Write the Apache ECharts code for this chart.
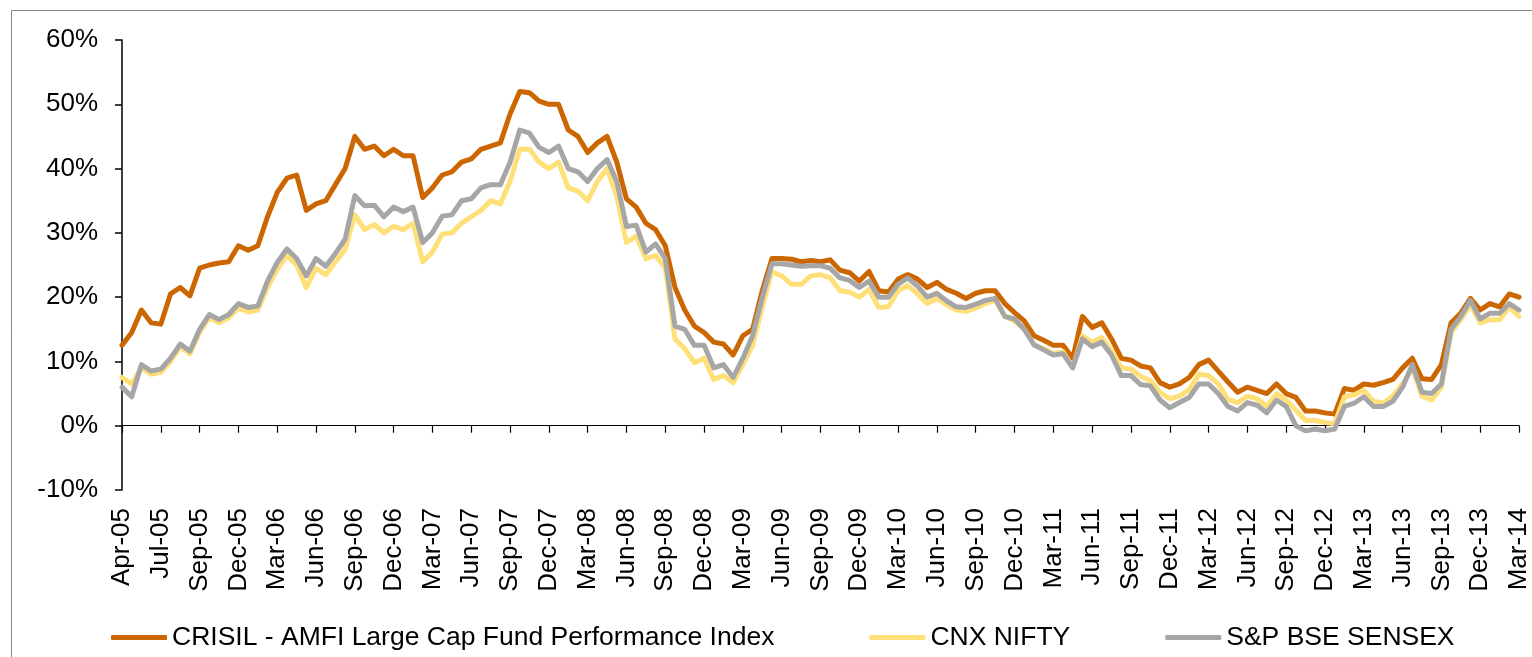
<!DOCTYPE html>
<html>
<head>
<meta charset="utf-8">
<title>Large Cap Fund Performance Index vs NIFTY / SENSEX</title>
<script src="https://cdn.jsdelivr.net/npm/echarts/dist/echarts.min.js"></script>
<style>
    html, body { margin: 0; padding: 0; background: #fff; }
    #chart { width: 1532px; height: 657px; }
</style>
</head>
<body>
<div id="chart"></div>
<script>
// tick labels, one every 4 points
const tickLabels = ['Apr-05', 'Jul-05', 'Sep-05', 'Dec-05', 'Mar-06', 'Jun-06', 'Sep-06', 'Dec-06',
    'Mar-07', 'Jun-07', 'Sep-07', 'Dec-07', 'Mar-08', 'Jun-08', 'Sep-08', 'Dec-08', 'Mar-09',
    'Jun-09', 'Sep-09', 'Dec-09', 'Mar-10', 'Jun-10', 'Sep-10', 'Dec-10', 'Mar-11', 'Jun-11',
    'Sep-11', 'Dec-11', 'Mar-12', 'Jun-12', 'Sep-12', 'Dec-12', 'Mar-13', 'Jun-13', 'Sep-13',
    'Dec-13', 'Mar-14']
const pointsPerTick = 4

const seriesNames = ['CRISIL - AMFI Large Cap Fund Performance Index', 'CNX NIFTY', 'S&P BSE SENSEX']
const lineColors = ['#cc6600', '#ffdf78', '#a6a6a6']

// values in %
const crisil = [
    12.5, 14.5, 18, 16, 15.8,
    20.5, 21.5, 20.2, 24.5,
    25, 25.3, 25.5, 28,
    27.3, 28, 32.5, 36.3,
    38.5, 39, 33.5, 34.5,
    35, 37.5, 40, 45,
    43, 43.5, 42, 43,
    42, 42, 35.5, 37,
    39, 39.5, 41, 41.5,
    43, 43.5, 44, 48.5,
    52, 51.8, 50.5, 50,
    50, 46, 45, 42.5,
    44, 45, 41, 35.3,
    34, 31.5, 30.5, 28,
    21.5, 18, 15.5, 14.5,
    13, 12.7, 11, 14,
    15, 21, 26, 26,
    25.9, 25.5, 25.7, 25.5,
    25.8, 24.2, 23.8, 22.5,
    24, 21, 20.8, 22.8,
    23.5, 22.8, 21.5, 22.3,
    21.2, 20.6, 19.8, 20.6,
    21, 21, 19, 17.6,
    16.3, 14, 13.3, 12.5,
    12.5, 10.5, 17, 15.3,
    16, 13.5, 10.5, 10.2,
    9.3, 9, 6.7, 6,
    6.5, 7.5, 9.5, 10.2,
    8.5, 6.8, 5.2, 6,
    5.5, 5, 6.5, 5,
    4.4, 2.3, 2.3, 2,
    1.8, 5.8, 5.5, 6.5,
    6.3, 6.7, 7.2, 9,
    10.5, 7.3, 7.2, 9.5,
    16, 17.5, 19.8, 18,
    19, 18.5, 20.5, 20
]
const nifty = [
    7.5, 6.5, 9, 8, 8.3,
    10, 12.3, 11.2, 14.5,
    16.8, 16, 16.8, 18.3,
    17.7, 18, 21.5, 24.3,
    26.5, 25, 21.5, 24.5,
    23.5, 25.5, 27.4, 32.8,
    30.5, 31.3, 30, 31,
    30.5, 31.5, 25.5, 27,
    29.8, 30, 31.5, 32.5,
    33.5, 35, 34.5, 38,
    43, 43, 41, 40,
    41, 37, 36.5, 35,
    38, 40, 35.7, 28.5,
    29.5, 26, 26.5, 24.6,
    13.5, 12, 9.8, 10.5,
    7.2, 7.8, 6.7, 9.5,
    12.5, 18.5, 24, 23.3,
    22, 22, 23.3, 23.5,
    23, 21, 20.8, 20,
    21.2, 18.4, 18.5, 21,
    21.8, 20.5, 19, 19.8,
    18.8, 18, 17.8, 18.3,
    19, 19.5, 17, 16.3,
    15, 12.6, 12, 11.2,
    11.5, 9, 14, 13,
    13.7, 11.6, 9, 8.8,
    7.7, 7, 5.2, 4.2,
    4.6, 5.6, 8, 7.8,
    6.5, 4.1, 3.6, 4.6,
    4.2, 3, 5, 4,
    2.4, 0.8, 0.8, 0.5,
    0.3, 4.5, 4.8, 5.5,
    3.8, 3.5, 4.6, 6.5,
    9, 4.6, 4, 6,
    14.5, 16.5, 18.8, 16,
    16.5, 16.5, 18.5, 17
]
const sensex = [
    6, 4.5, 9.5, 8.5, 8.8,
    10.5, 12.7, 11.6, 15,
    17.3, 16.5, 17.3, 19,
    18.4, 18.6, 22.5, 25.4,
    27.5, 26, 23.3, 26,
    24.8, 26.8, 29, 35.8,
    34.2, 34.3, 32.5, 34,
    33.3, 34, 28.5, 30,
    32.6, 32.8, 35, 35.3,
    37, 37.5, 37.5, 41,
    46, 45.5, 43.3, 42.5,
    43.5, 40, 39.5, 38,
    40, 41.4, 38, 31,
    31.2, 27, 28.3, 26,
    15.5, 15, 12.5, 12.5,
    9, 9.5, 7.5, 10.5,
    14, 20, 25.2, 25.2,
    25, 24.8, 24.9, 24.9,
    24.5, 23, 22.6, 21.5,
    22.5, 20, 20, 22,
    23, 21.7, 20, 20.6,
    19.4, 18.5, 18.4, 18.9,
    19.5, 19.8, 17, 16.6,
    15, 12.6, 11.8, 11,
    11.2, 9, 13.5, 12.3,
    13, 11, 7.8, 7.8,
    6.4, 6.2, 4, 2.8,
    3.6, 4.4, 6.5, 6.5,
    5, 3, 2.3, 3.6,
    3.2, 2, 4, 3,
    0, -0.8, -0.5, -0.8,
    -0.5, 3, 3.5, 4.5,
    3, 3, 3.8, 6,
    9.5, 5.2, 5, 6.5,
    15, 17, 19.5, 16.6,
    17.5, 17.5, 19, 18
]

const categories = crisil.map((v, i) => (i % pointsPerTick === 0 ? tickLabels[i / pointsPerTick] : ''))
const fontFamily = '"Liberation Sans", Arial, sans-serif'

const chart = echarts.init(document.getElementById('chart'), null, { renderer: 'canvas' })

const makeSeries = (name, data, color) => ({
    name,
    type: 'line',
    data,
    symbol: 'none',
    xAxisIndex: 0,
    lineStyle: { color, width: 5, cap: 'round', join: 'round' },
    itemStyle: { color },
    emphasis: { disabled: true }
})

chart.setOption({
    animation: false,
    backgroundColor: '#fff',
    textStyle: { fontFamily },
    graphic: [{
        type: 'rect',
        shape: { x: 11.5, y: 10.5, width: 1540, height: 660 },
        style: { fill: 'none', stroke: '#878787', lineWidth: 1 },
        silent: true
    }],
    grid: { left: 122, right: 8, top: 40, bottom: 167 },
    legend: {
        left: 106,
        top: 619,
        icon: 'roundRect',
        itemWidth: 56,
        itemHeight: 5,
        itemGap: 95,
        textStyle: { fontSize: 26.5, color: '#000', fontFamily },
        data: seriesNames
    },
    xAxis: [{
        type: 'category',
        data: categories,
        boundaryGap: false,
        axisLine: { onZero: true, lineStyle: { color: '#000', width: 1.2 } },
        axisTick: { show: true, interval: pointsPerTick - 1, length: 7, lineStyle: { color: '#000', width: 1.2 } },
        axisLabel: { show: false },
        splitLine: { show: false }
    }, {
        type: 'category',
        position: 'bottom',
        data: categories,
        boundaryGap: false,
        axisLine: { show: false, onZero: false },
        axisTick: { show: false },
        axisLabel: {
            interval: pointsPerTick - 1,
            rotate: 90,
            margin: 18,
            fontSize: 26,
            color: '#000',
            fontFamily
        },
        splitLine: { show: false }
    }],
    yAxis: {
        type: 'value',
        min: -10,
        max: 60,
        interval: 10,
        axisLine: { show: true, lineStyle: { color: '#000', width: 1.5 } },
        axisTick: { show: true, length: 7, lineStyle: { color: '#000', width: 1.5 } },
        axisLabel: { formatter: '{value}%', fontSize: 26, color: '#000', margin: 24, fontFamily },
        splitLine: { show: false }
    },
    series: [
        makeSeries(seriesNames[0], crisil, lineColors[0]),
        makeSeries(seriesNames[1], nifty, lineColors[1]),
        makeSeries(seriesNames[2], sensex, lineColors[2])
    ]
})
</script>
</body>
</html>
